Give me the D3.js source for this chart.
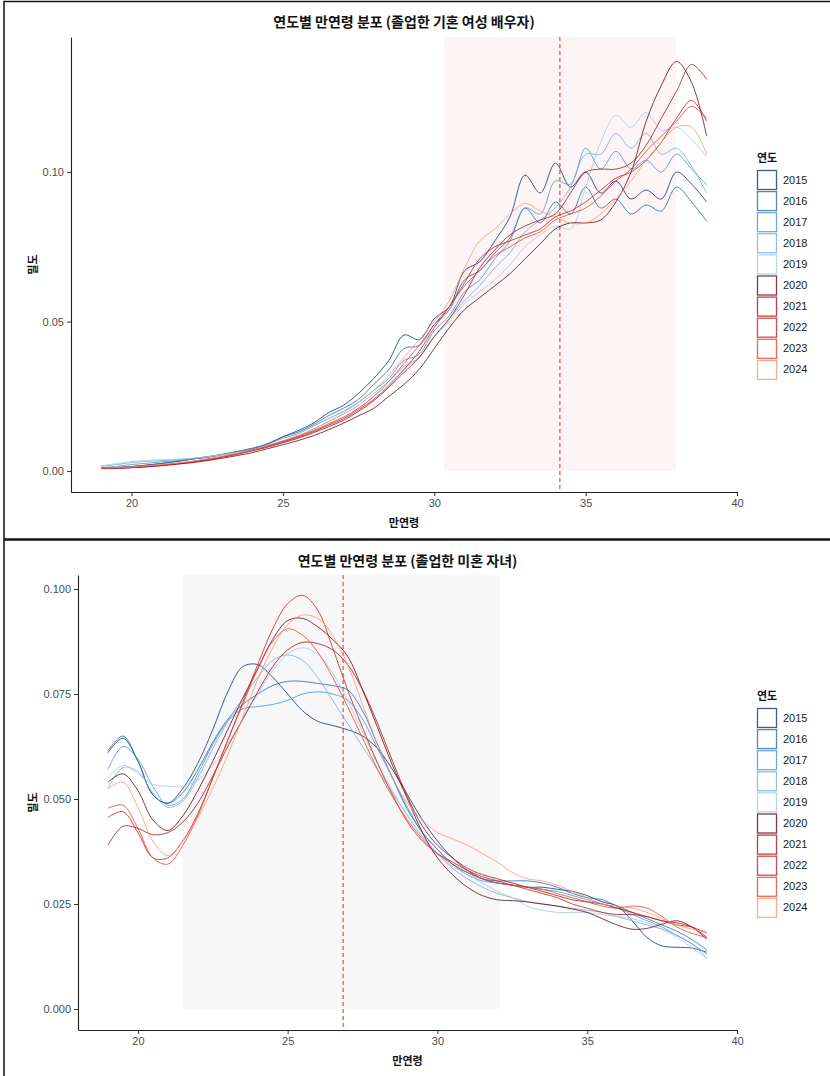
<!DOCTYPE html>
<html><head><meta charset="utf-8">
<script src="https://cdn.jsdelivr.net/npm/d3@7/dist/d3.min.js"></script>
<style>
body{margin:0;background:#fff}
svg{display:block}
text{font-family:"Noto Sans CJK KR","Liberation Sans",Arial,sans-serif}
</style>
</head><body>
<svg id="chart" width="830" height="1076"></svg>
<script>
// ---------- data ----------
const years = [2015,2016,2017,2018,2019,2020,2021,2022,2023,2024];
const yearColors = ["#08306B","#2166AC","#4393C3","#6BAED6","#9ECAE1","#67000D","#A50F15","#CB181D","#EF3B2C","#FC9272"];
const ages = [19,19.5,20,20.5,21,21.5,22,22.5,23,23.5,24,24.5,25,25.5,26,26.5,27,27.5,28,28.5,29,29.5,30,30.5,31,31.5,32,32.5,33,33.5,34,34.5,35,35.5,36,36.5,37,37.5,38,38.5,39];
const xTicks = [20,25,30,35,40];

// panel 1: 졸업한 기혼 여성 배우자 (density x1000)
const spouse2015 = [1,1.2,1.5,2,2.5,3.2,4,4.6,5.5,6.5,7.5,9,11.5,13.5,16,19.5,22,26,31,37,45.5,44,51,55,67,70,77,85,99,93,103,95,100,93,97,91,94,91,100,96,90];
const spouse2016 = [1,1.2,1.5,2,2.6,3.3,4,4.7,5.6,6.6,7.7,9.2,11.5,13,15.5,18.5,21,24,29,34,41,42,49,54,64,67,73,78,88,83,90,86,95,88,91,86,89,87,95,90,83.5];
const spouse2017 = [1.2,1.6,2.2,2.6,3.1,3.5,4.1,4.8,5.6,6.5,7.6,9,11,12.5,15,17.5,20,23,27,31,37,39,47,52,60,64,71,77,88,86,97,96,108,101,107,101,104,100,106,101,95.7];
const spouse2018 = [1.5,2.2,2.8,3.2,3.5,3.8,4.2,4.8,5.5,6.3,7.2,8.5,10,11.5,14,16.5,19,22,26,30,35,38,45,51,57,62,68,73,80,84,88,95,106,106,113,108,113,106,108,102,92.9];
const spouse2019 = [1.8,2.5,3.2,3.6,3.8,4,4.3,4.8,5.4,6.2,7,8.2,9.5,11,13,15.5,18,21,25,29,34,38,45,50,56,60,64,69,75,79,82,81,95,110,119,115,120,114,115,111,105];
const spouse2020 = [0.8,0.9,1.1,1.4,1.8,2.3,2.8,3.5,4.3,5.2,6.2,7.5,8.8,10.2,11.8,13.8,16,18.5,21,25,29,34,41,48,54,58,62,66,71,76,81,83,83,84,90,100,117,129,137,130,112];
const spouse2021 = [0.9,1,1.2,1.5,1.9,2.4,3,3.7,4.6,5.6,6.8,8,9.5,11,12.8,14.8,17,20,23.5,28,33,38,45,51,59,68,74,79,82,84,86,93,100,101,101,103,109,118,127,136,131];
const spouse2022 = [0.9,1,1.2,1.6,2,2.5,3.1,3.9,4.8,5.8,7,8.3,9.8,11.4,13.2,15.3,17.5,20.5,24,28.5,34,40,48,55,63,71,75,77,79,81,85,87,90,94,98,100,104,110,118,124,117];
const spouse2023 = [1,1.1,1.3,1.7,2.1,2.6,3.2,4,4.9,5.9,7.1,8.4,10,11.7,13.5,15.8,18,21,25,30,36,42,49,55,62,67,72,75,78,80,84,86,88,92,97,101,107,112,117,122,118];
const spouse2024 = [1,1.2,1.4,1.8,2.2,2.7,3.3,4.1,5,6,7.2,8.6,10.2,12,14,16.5,19.5,23,27,32,38,44,50,57,68,77,81,86,89.5,87,85,83,83,86,91,97,104,110,115,115,106];

// panel 2: 졸업한 미혼 자녀 (density x1000)
const child2015 = [61,64.5,59,51,49,52.5,58.5,66.5,75.5,81.5,82,79,75,71,68.5,67.5,66.5,65,62,57,51,45,40,36,33,31,30,29.5,29,29,28.5,28,27,25.5,24.5,21,17,15,14.7,14.5,13.5];
const child2016 = [61.5,65,59,51,49,51.5,57,63.5,69,72.5,75,77,78,78,77.5,77,76,71,63,55,47.5,42,38,34.5,32.5,31,30.5,30.5,30.5,30,29,27.5,26.5,26,24.5,23,21.5,20,18.5,16.5,14];
const child2017 = [57,62.5,59.5,53,48.5,50,56,63,68.5,71.5,72,72.5,73.5,75,75.5,75,73.5,69,62,55,48,42,38,34.5,32,30.5,30,29.5,29,28.5,28,27,26,25,24,22.5,21,19.5,17.5,15.5,13];
const child2018 = [52.5,57.5,56.5,51.5,48,49.5,55,62,68.5,74,79,83,84.3,83,79,73.5,68,62.5,57,51.5,46,41,37,33.5,31,29,27.5,26.5,25.5,25,24.5,24,23.5,23,22,21,20,19,17.5,15.5,12];
const child2019 = [55,58,56,53.5,53,53,54.5,58,63,69,75,80.5,84.5,86,84.5,80,73.5,66,58.5,52,46,41,37,34,32,30,28,26.5,24.5,23.5,23,23,23,22.5,22,21.5,20.5,19,17,14.5,12];
const child2020 = [54,56,52,45,42.5,46,52,59,66.5,74,81,88,92.5,93,91,88,84,76,67,58,50,42,36,32,29,27,26,25.8,25.5,25,24.5,23.8,23,21.5,20,19,19.2,20.2,21,19.5,16.5];
const child2021 = [39,43.5,43,41.5,42,44.5,49,55.5,62.5,69,75.5,81.5,85.5,87.3,87,85.5,82,76,68,59,50.5,43.5,39,36,33.5,32,31,30,29,28,27,26,25.5,25,24,23,22,21,20.5,19.5,17];
const child2022 = [45.6,47,42,36,36,40,46.5,55,64,73,82,90.5,96.5,98.5,95,86,76,67,58.5,51,44.5,40,37,35,33,31.5,30.5,29.5,28.5,27.5,26.5,25,24,23,22.5,22.5,22,21,20,19.5,18];
const child2023 = [47.8,48.5,43,36,34.5,39,46,55,64,72.5,81,87.5,90.5,89,85,79,72,64.5,57,50.5,45,40.5,37,34.5,32.5,31,30,29.5,29,28.5,27.5,26.5,25.5,24.5,24,24.5,24,22,19.5,18,17];
const child2024 = [52.5,54,48,40,36.5,40,45.5,52.5,60.5,69.5,78.5,86,91.5,93.8,93,89,82,72.5,63,55,49,45,42,40.5,39,37,35,32.5,31,30.5,29.5,28,26.5,25,24.5,24,23,21.5,20,19,18.5];

const spouseSeries = [spouse2015,spouse2016,spouse2017,spouse2018,spouse2019,spouse2020,spouse2021,spouse2022,spouse2023,spouse2024];
const childSeries = [child2015,child2016,child2017,child2018,child2019,child2020,child2021,child2022,child2023,child2024];

const spouseTicks = [0, 0.05, 0.10];
const childTicks = [0, 0.025, 0.05, 0.075, 0.10];

// ---------- drawing ----------
const svg = d3.select("#chart");

// frames
svg.append("rect").attr("x",4).attr("y",1.5).attr("width",830).attr("height",537.5)
  .attr("fill","none").attr("stroke","#111").attr("stroke-width",1.5);
svg.append("rect").attr("x",4).attr("y",540).attr("width",830).attr("height",540)
  .attr("fill","none").attr("stroke","#111").attr("stroke-width",1.5);

function drawPanel(cfg){
  const g = svg.append("g");
  const x = d3.scaleLinear().domain([18,40]).range([cfg.left, 737]);
  const y = d3.scaleLinear().domain(cfg.yDomain).range([cfg.bottom, cfg.top]);

  // shaded band
  g.append("rect")
    .attr("x", x(cfg.band[0])).attr("width", x(cfg.band[1]) - x(cfg.band[0]))
    .attr("y", cfg.top).attr("height", y(0) - cfg.top)
    .attr("fill", cfg.bandFill);

  // dashed line
  g.append("line")
    .attr("x1", x(cfg.vline)).attr("x2", x(cfg.vline))
    .attr("y1", cfg.top).attr("y2", cfg.bottom)
    .attr("stroke", "#EE2222").attr("stroke-width", 1).attr("stroke-dasharray", "4,3");

  // curves
  const line = d3.line()
    .x((d,i) => x(ages[i]))
    .y(d => y(d/1000))
    .curve(d3.curveCatmullRom.alpha(0.5));
  cfg.series.forEach((s,i) => {
    g.append("path").datum(s)
      .attr("d", line)
      .attr("fill","none")
      .attr("stroke", yearColors[i])
      .attr("stroke-width", 1)
      .attr("stroke-opacity", 0.78);
  });

  // axes
  const xa = g.append("g").attr("transform", `translate(0,${cfg.bottom})`)
    .call(d3.axisBottom(x).tickValues(xTicks).tickSizeInner(4).tickSizeOuter(0).tickPadding(3).tickFormat(d3.format("d")));
  const ya = g.append("g").attr("transform", `translate(${cfg.left},0)`)
    .call(d3.axisLeft(y).tickValues(cfg.ticks).tickSizeInner(4).tickSizeOuter(0).tickPadding(3).tickFormat(d3.format(cfg.fmt)));
  [xa, ya].forEach(a => {
    a.select(".domain").attr("stroke","#222").attr("stroke-width",1.1);
    a.selectAll(".tick line").attr("stroke","#333");
    a.selectAll(".tick text").attr("fill","#4d4d4d").style("font-size","11px")
      .style("font-family","'Liberation Sans',Arial,sans-serif");
  });

  const cx = (cfg.left + 737) / 2;
  // title
  g.append("text").attr("x", cx).attr("y", cfg.titleY).attr("text-anchor","middle")
    .style("font-size","14px").style("font-weight","bold").attr("fill","#111").text(cfg.title);
  // x title
  g.append("text").attr("x", cx).attr("y", cfg.bottom + 35).attr("text-anchor","middle")
    .style("font-size","11px").style("font-weight","bold").attr("fill","#111").text("만연령");
  // y title
  const cy = (cfg.top + cfg.bottom) / 2;
  g.append("text").attr("transform", `translate(37,${cy}) rotate(-90)`).attr("text-anchor","middle")
    .style("font-size","11px").style("font-weight","bold").attr("fill","#111").text("밀도");

  // legend
  const step = 21.1, box = 19;
  const legH = 18 + years.length * step;
  const ly = cy - legH/2 + 2;
  const lg = g.append("g").attr("transform", `translate(757,${ly})`);
  lg.append("text").attr("x",0).attr("y",10).style("font-size","11px").style("font-weight","bold")
    .attr("fill","#111").text("연도");
  years.forEach((yr,i) => {
    const yy = 18 + i*step;
    lg.append("rect").attr("x",0.5).attr("y",yy+0.5).attr("width",box).attr("height",box)
      .attr("fill","#fff").attr("stroke", yearColors[i]).attr("stroke-opacity",0.78).attr("stroke-width",1.3);
    lg.append("text").attr("x",26).attr("y",yy+box/2+4).style("font-size","11px")
      .style("font-family","'Liberation Sans',Arial,sans-serif").attr("fill","#1a1a1a").text(yr);
  });
}

drawPanel({
  title: "연도별 만연령 분포 (졸업한 기혼 여성 배우자)",
  titleY: 27, left: 71, top: 37, bottom: 492,
  yDomain: [-0.007, 0.1452], ticks: spouseTicks, fmt: ".2f",
  band: [30.32, 37.99], bandFill: "#FDF5F5", vline: 34.15,
  series: spouseSeries
});
drawPanel({
  title: "연도별 만연령 분포 (졸업한 미혼 자녀)",
  titleY: 566, left: 78, top: 575, bottom: 1030,
  yDomain: [-0.005, 0.10333], ticks: childTicks, fmt: ".3f",
  band: [21.47, 32.09], bandFill: "#F7F7F7", vline: 26.85,
  series: childSeries
});
</script>
</body></html>
